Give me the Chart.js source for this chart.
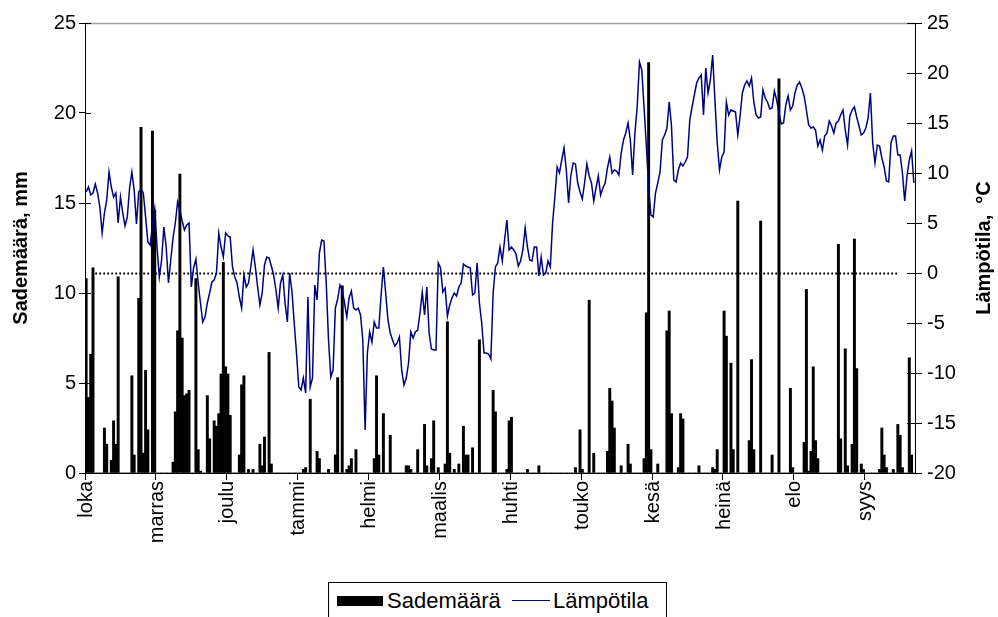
<!DOCTYPE html>
<html lang="fi">
<head>
<meta charset="utf-8">
<title>Sademäärä ja lämpötila</title>
<script src="https://cdn.jsdelivr.net/npm/chart.js@4.4.1/dist/chart.umd.min.js"></script>
<style>
  html, body { margin: 0; padding: 0; background: #fff; }
  #wrap { position: relative; width: 998px; height: 617px; overflow: hidden; }
  #chart { position: absolute; left: 0; top: 0; }
  #legend {
    position: absolute; left: 328px; top: 582px; width: 339px; height: 44px;
    border: 1px solid #000; box-sizing: border-box; background: #fff;
    font-family: "Liberation Sans", Arial, sans-serif; font-size: 22px; color: #000;
  }
  #legend .swatch { position: absolute; left: 8px; top: 13px; width: 46px; height: 10px; background: #000; }
  #legend .line { position: absolute; left: 183px; top: 17px; width: 38px; height: 0; border-top: 1.5px solid #000080; }
  #legend .txt { position: absolute; top: 6px; line-height: 24px; white-space: nowrap; }
</style>
</head>
<body>
<div id="wrap">
  <canvas id="chart" width="998" height="617"></canvas>
  <div id="legend">
    <span class="swatch"></span><span class="txt" id="lg1" style="left:58px"></span>
    <span class="line"></span><span class="txt" id="lg2" style="left:224px"></span>
  </div>
</div>
<script>
// Month names shown on the time axis, one label every 31 days
const MONTHS = ['loka', 'marras', 'joulu', 'tammi', 'helmi', 'maalis',
                'huhti', 'touko', 'kesä', 'heinä', 'elo', 'syys'];
const TICK_EVERY = 31;

// Daily precipitation (mm), one row per 31-day block
const rainfall = [
  10.8,4.2,6.6,11.4,0,0,0,0,2.5,1.6,0,0.7,2.9,1.6,10.9,0,0,0,0,0,5.4,1.0,0,9.7,19.2,1.1,5.7,2.4,0,19.0,14.6,
  0,0,0,0,0,0,0,0.6,3.4,7.9,16.6,7.5,4.3,4.4,4.6,0,0,10.8,1.3,0.1,0,0,4.3,1.9,0,2.9,2.6,3.3,5.5,11.7,5.9,
  5.5,3.2,0,0,0,1.0,4.9,5.4,0,0.2,0,0.2,0,0,1.6,0.4,2.0,0,6.7,0.5,0,0,0,0,0,0,0,0,0,0,0,
  0,0,0.2,0.3,0,4.1,0,0,1.2,0.8,0,0,0,0.2,0,0,1.0,5.3,0,10.4,0,0.2,0.4,0.8,0,1.3,0,0,0,0,0,
  0,0,0.8,5.4,1.0,0,3.3,0,0,2.1,0,0,0,0,0,0,0.4,0.4,0.2,0,0,1.3,0,0,2.7,0.4,0,0.8,2.9,0,0.3,
  0,0,0.5,8.4,1.1,0,0.2,0,0.5,0,2.6,1.0,1.0,0,1.4,0,0,7.4,0,0,0,0,0,4.6,3.4,0,0,0,0,0.2,2.9,
  3.1,0,0,0,0,0,0,0.2,0,0,0,0,0.4,0,0,0,0,0,0,0,0,0,0,0,0,0,0,0,0.3,0,2.4,
  0.2,0,0,9.6,0,1.1,0,0,0,0,0,1.2,4.7,4.0,2.5,0,0,0.4,0,0,1.6,0.5,0,0,0,0,0,0.8,8.9,22.8,1.3,
  0,0,0.5,0,0,0,7.9,9.0,3.3,0,0,0.3,3.3,3.0,0,0,0,0,0,0,0.4,0,0,0,0,0,0.3,0.2,1.3,0,0,
  9.0,7.6,0,6.1,1.3,0,15.1,0,0,0,0,1.8,6.3,1.3,0,0,14.0,0,0,0,0,1.0,0,0,21.9,0,0,0,0,4.7,0.3,
  0,0,0,0,1.7,10.2,0.1,1.2,5.9,1.8,0.8,0,0,0,0,0,0,0,0,12.7,1.9,0,6.9,0.4,0,1.6,13.0,5.8,0,0.5,0.2,
  0,0,0,0,0,0,0.2,2.5,1.0,0.3,0,0,0.2,0,2.7,2.1,0.3,0,0,6.4,1.0,0
];

// Daily mean temperature (°C), same day order
const temperature = [
  8.1,8.6,7.8,8.0,8.9,8.0,6.6,4.0,6.0,7.3,10.1,8.6,7.6,8.0,5.0,7.6,6.0,4.7,5.6,8.5,10.1,8.3,4.9,8.1,8.4,8.0,5.6,3.1,2.8,4.8,6.4,
  2.6,-0.4,1.3,4.6,2.6,-1.0,1.3,3.5,5.0,7.1,6.3,5.2,4.3,4.8,5.0,-1.4,0.5,1.4,-1.0,-3.0,-4.9,-4.4,-3.0,-2.0,-0.9,-0.7,0.0,4.0,2.6,1.6,4.0,
  3.7,3.6,0.6,-0.4,-1.0,-2.4,-3.5,-0.2,-1.4,-1.0,0.6,2.3,0.6,-1.4,-3.2,-2.0,0.8,1.6,1.5,0.7,-0.2,-1.7,-3.5,-1.0,-0.2,-3.0,-4.9,0.0,-1.8,-5.0,-8.0,
  -11.4,-11.7,-10.5,-12.0,-2.4,-11.4,-10.5,-1.2,-2.7,2.0,3.3,3.2,-1.0,-6.7,-10.4,-9.7,-3.5,-2.6,-1.2,-1.7,-3.0,-4.4,-2.5,-1.8,-3.5,-3.7,-3.5,-4.2,-6.7,-15.7,-8.0,
  -5.9,-6.9,-4.9,-5.5,-5.5,-2.2,0.6,-2.0,-4.7,-6.0,-6.7,-7.3,-7.0,-6.4,-9.7,-11.2,-10.5,-9.0,-5.9,-6.5,-5.9,-5.7,-4.0,-1.9,-4.2,-1.4,-6.0,-7.6,-7.7,-7.7,1.0,
  0.5,-1.9,-1.5,-4.3,-3.2,-2.5,-2.0,-2.3,-1.4,-1.0,0.9,0.7,0.6,0.5,-2.2,-2.0,1.0,-3.0,-5.0,-8.0,-8.0,-8.1,-8.6,-2.0,0.6,1.0,2.6,1.2,3.3,5.3,2.3,
  2.6,2.3,1.9,0.7,1.2,2.3,4.5,2.6,1.3,1.2,2.6,2.6,-0.3,1.6,-0.2,0.0,1.2,0.6,5.0,7.6,10.6,10.0,11.3,12.5,10.3,7.0,9.8,11.0,10.9,9.0,8.1,
  7.4,9.0,10.9,9.7,9.0,7.2,8.5,9.7,7.8,8.5,9.0,10.5,11.6,10.0,10.3,10.2,9.8,12.0,13.3,14.0,15.0,13.3,9.8,14.0,16.6,21.1,20.3,16.6,12.7,8.6,5.8,
  5.6,8.0,9.0,10.1,13.3,13.8,14.5,17.1,14.7,9.3,9.1,10.3,11.0,10.7,11.1,11.6,15.3,16.6,17.8,19.0,19.5,19.8,15.8,20.5,18.0,19.3,21.8,17.3,13.0,10.3,11.6,
  12.1,17.1,15.8,16.3,16.2,16.1,13.8,15.7,18.0,18.8,19.2,18.7,19.5,17.1,15.8,15.5,15.6,18.3,17.5,17.1,16.4,16.5,18.2,17.3,16.0,14.9,15.0,16.8,17.7,16.3,16.7,
  18.0,18.8,19.1,18.5,17.7,16.3,14.8,14.5,14.6,14.3,12.7,13.3,12.3,13.7,14.0,15.2,14.7,14.0,15.0,15.2,15.8,16.3,14.3,12.8,15.7,16.3,16.6,15.6,14.7,13.8,14.0,
  14.5,15.5,18.0,13.0,11.0,12.8,12.7,11.5,10.6,9.2,9.1,13.0,13.7,13.7,11.8,11.8,10.0,7.2,9.7,11.3,12.2,9.0
];

// Axis ranges
const RAIN_TICKS = [0, 25, 5];      // min, max, step (mm)
const TEMP_TICKS = [-20, 25, 5];    // min, max, step (°C)
// 0 °C guide line runs between these day indexes
const ZERO_FROM = 4, ZERO_TO = 355;

const LABEL_RAIN = 'Sademäärä';
const LABEL_TEMP = 'Lämpötila';
const TITLE_LEFT = 'Sademäärä, mm';
const TITLE_RIGHT = 'Lämpötila,  °C';

const labels = rainfall.map((_, i) => (i % TICK_EVERY === 0 ? MONTHS[i / TICK_EVERY] : ''));

const FONT = '"Liberation Sans", Arial, Helvetica, sans-serif';
Chart.defaults.font.family = FONT;
Chart.defaults.font.size = 20;
Chart.defaults.color = '#000';

const INNER_LEFT = 6, INNER_RIGHT = 8;

const decorations = {
  id: 'decorations',
  beforeDatasetsDraw(chart) {
    const { ctx, chartArea: a, scales } = chart;
    ctx.save();
    // light frame edge along the top of the plot
    ctx.strokeStyle = '#a0a0a0';
    ctx.lineWidth = 1.5;
    ctx.beginPath();
    ctx.moveTo(a.left, a.top + 0.5);
    ctx.lineTo(a.right, a.top + 0.5);
    ctx.stroke();
    // dotted freezing-point line on the temperature scale
    const y0 = Math.round(scales.y1.getPixelForValue(0)) + 0.5;
    ctx.strokeStyle = '#000';
    ctx.lineWidth = 1.8;
    ctx.setLineDash([1.8, 2.2]);
    ctx.beginPath();
    ctx.moveTo(scales.x.getPixelForValue(ZERO_FROM), y0);
    ctx.lineTo(scales.x.getPixelForValue(ZERO_TO), y0);
    ctx.stroke();
    ctx.restore();
  },
  afterDraw(chart) {
    const { ctx, chartArea: a, scales } = chart;
    ctx.save();
    // tick marks also reach into the plot area on both value axes
    ctx.strokeStyle = '#000';
    ctx.lineWidth = 1;
    ctx.beginPath();
    scales.y.ticks.forEach(t => {
      const y = Math.round(scales.y.getPixelForValue(t.value)) + 0.5;
      ctx.moveTo(a.left, y); ctx.lineTo(a.left + INNER_LEFT, y);
    });
    scales.y1.ticks.forEach(t => {
      const y = Math.round(scales.y1.getPixelForValue(t.value)) + 0.5;
      ctx.moveTo(a.right - INNER_RIGHT, y); ctx.lineTo(a.right, y);
    });
    ctx.stroke();
    // axis titles, both reading bottom to top
    ctx.fillStyle = '#000';
    ctx.font = 'bold 20px ' + FONT;
    ctx.textAlign = 'center';
    ctx.textBaseline = 'middle';
    const midY = (a.top + a.bottom) / 2;
    ctx.translate(21, midY);
    ctx.rotate(-Math.PI / 2);
    ctx.fillText(TITLE_LEFT, 0, 0);
    ctx.restore();
    ctx.save();
    ctx.fillStyle = '#000';
    ctx.font = 'bold 20px ' + FONT;
    ctx.textAlign = 'center';
    ctx.textBaseline = 'middle';
    ctx.translate(984, midY);
    ctx.rotate(-Math.PI / 2);
    ctx.fillText(TITLE_RIGHT, 0, 0);
    ctx.restore();
  }
};

const monthTick = ctx => (ctx.index % TICK_EVERY === 0 ? '#000' : 'rgba(0,0,0,0)');

new Chart(document.getElementById('chart'), {
  data: {
    labels,
    datasets: [
      {
        type: 'line',
        label: LABEL_TEMP,
        data: temperature,
        yAxisID: 'y1',
        borderColor: '#000080',
        borderWidth: 1.5,
        pointRadius: 0,
        tension: 0,
        order: 0
      },
      {
        type: 'bar',
        label: LABEL_RAIN,
        data: rainfall,
        yAxisID: 'y',
        backgroundColor: '#000',
        borderWidth: 0,
        barPercentage: 1.0,
        categoryPercentage: 1.0,
        order: 1
      }
    ]
  },
  options: {
    responsive: false,
    animation: false,
    events: [],
    layout: { padding: { top: 23, left: 0, right: 0, bottom: 0 } },
    plugins: { legend: { display: false }, tooltip: { enabled: false } },
    scales: {
      x: {
        type: 'category',
        offset: true,
        border: { display: true, color: '#000', width: 1 },
        grid: {
          offset: true,
          drawOnChartArea: false,
          drawTicks: true,
          tickLength: 7,
          color: monthTick,
          tickColor: monthTick
        },
        ticks: {
          autoSkip: false,
          minRotation: 90,
          maxRotation: 90,
          padding: 1,
          font: { size: 20 },
          color: '#000'
        },
        afterFit(scale) { scale.height = 144; }
      },
      y: {
        position: 'left',
        min: RAIN_TICKS[0], max: RAIN_TICKS[1],
        border: { display: true, color: '#000', width: 1 },
        grid: { drawOnChartArea: false, drawTicks: true, tickLength: 6, color: '#000' },
        ticks: { stepSize: RAIN_TICKS[2], padding: 3, font: { size: 20 }, color: '#000' },
        afterFit(scale) { scale.width = 85; }
      },
      y1: {
        position: 'right',
        min: TEMP_TICKS[0], max: TEMP_TICKS[1],
        border: { display: true, color: '#000', width: 1 },
        grid: { drawOnChartArea: false, drawTicks: true, tickLength: 7, color: '#000' },
        ticks: { stepSize: TEMP_TICKS[2], padding: 5, font: { size: 20 }, color: '#000' },
        afterFit(scale) { scale.width = 83; }
      }
    }
  },
  plugins: [decorations]
});

document.getElementById('lg1').textContent = LABEL_RAIN;
document.getElementById('lg2').textContent = LABEL_TEMP;
</script>
</body>
</html>
